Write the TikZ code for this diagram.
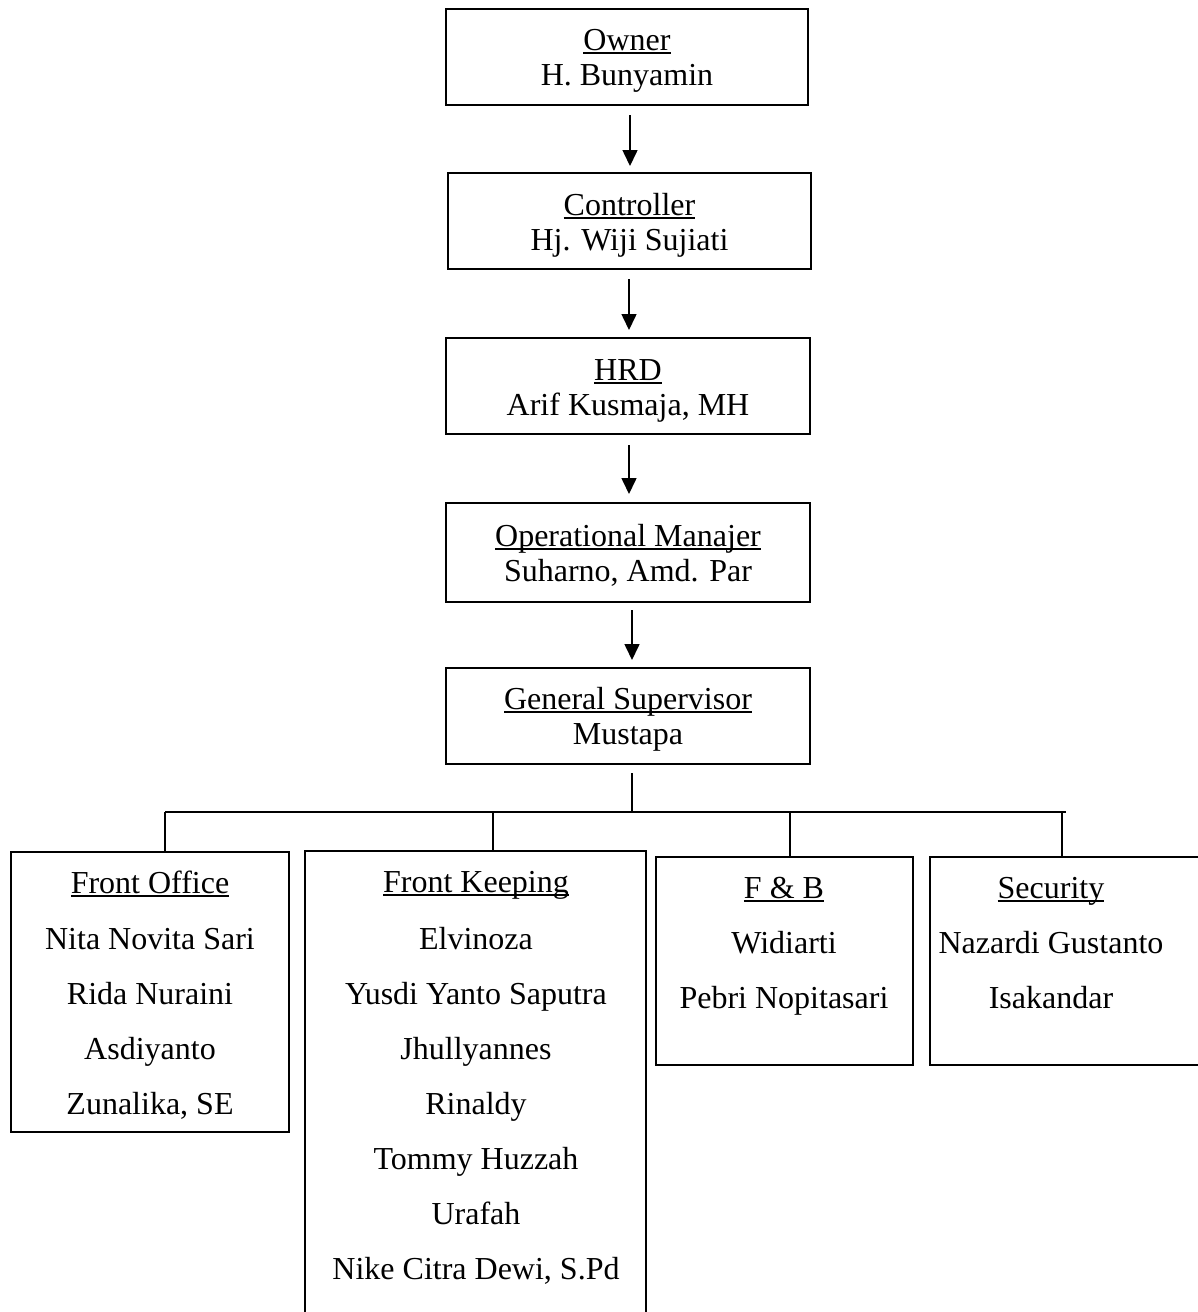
\documentclass[tikz,border=0pt]{standalone}
\usepackage{fontspec}
\setmainfont{Liberation Serif}
\usetikzlibrary{arrows.meta}
\newsavebox\ulbox
\newcommand\ulx[1]{\sbox\ulbox{#1}\rlap{\rule[-3.5pt]{\wd\ulbox}{1.6pt}}\usebox\ulbox}
\tikzset{
  orgbox/.style={draw, line width=1.6pt, rectangle, anchor=north west, inner sep=0pt, outer sep=0pt},
  txt/.style={anchor=base, inner sep=0pt, font=\fontsize{32pt}{35pt}\selectfont},
  conn/.style={line width=1.6pt},
  arr/.style={line width=1.6pt, -{Triangle[length=16pt,width=15pt]}}
}
\begin{document}
\begin{tikzpicture}[x=1pt,y=-1pt]
\useasboundingbox (0,0) rectangle (1198,1312);
% top chain boxes
\node[orgbox, minimum width=362pt, minimum height=96pt] (owner) at (446,9) {};
\node[orgbox, minimum width=363pt, minimum height=96pt] (ctrl) at (448,173) {};
\node[orgbox, minimum width=364pt, minimum height=96pt] (hrd) at (446,338) {};
\node[orgbox, minimum width=364pt, minimum height=99pt] (ops) at (446,503) {};
\node[orgbox, minimum width=364pt, minimum height=96pt] (gen) at (446,668) {};
% texts in top chain
\node[txt] (t1a) at (627,50) {\ulx{Owner}};
\node[txt] (t1b) at (627,85) {H. Bunyamin};
\node[txt] (t2a) at (629.5,215) {\ulx{Controller}};
\node[txt] (t2b) at (629.5,250) {Hj. Wiji Sujiati};
\node[txt] (t3a) at (628,380) {\ulx{HRD}};
\node[txt] (t3b) at (628,415) {Arif Kusmaja, MH};
\node[txt] (t4a) at (628,546) {\ulx{Operational Manajer}};
\node[txt] (t4b) at (628,581) {Suharno, Amd. Par};
\node[txt] (t5a) at (628,709) {\ulx{General Supervisor}};
\node[txt] (t5b) at (628,744) {Mustapa};
% arrows
\draw[arr, shorten <=10pt, shorten >=7pt] ([xshift=3pt]owner.south) -- ([xshift=3pt]owner.south |- ctrl.north);
\draw[arr, shorten <=10pt, shorten >=8pt] ([xshift=-0.5pt]ctrl.south) -- ([xshift=-0.5pt]ctrl.south |- hrd.north);
\draw[arr, shorten <=11pt, shorten >=9pt] ([xshift=1pt]hrd.south) -- ([xshift=1pt]hrd.south |- ops.north);
\draw[arr, shorten <=8pt, shorten >=8pt] ([xshift=4pt]ops.south) -- ([xshift=4pt]ops.south |- gen.north);
% department boxes
\node[orgbox, minimum width=278pt, minimum height=280pt] (fo) at (11,852) {};
\node[orgbox, minimum width=341pt, minimum height=480pt] (fk) at (305,851) {};
\node[orgbox, minimum width=257pt, minimum height=208pt] (fb) at (656,857) {};
\node[orgbox, minimum width=280pt, minimum height=208pt] (sec) at (930,857) {};
% bus
\coordinate (g1) at ([xshift=4pt,yshift=-9pt]gen.south);
\coordinate (busL) at (165,812);
\coordinate (busR) at (1066,812);
\draw[conn] (g1) -- (g1 |- busL);
\draw[conn] (busL) -- (busR);
\draw[conn] (busL) -- (busL |- fo.north);
\draw[conn] (493,812) coordinate (b2) -- (b2 |- fk.north);
\draw[conn] (790,812) coordinate (b3) -- (b3 |- fb.north);
\draw[conn] (1062,812) coordinate (b4) -- (b4 |- sec.north);
% Front Office
\node[txt] (fo0) at (150,893) {\ulx{Front Office}};
\node[txt] (fo1) at (150,949) {Nita Novita Sari};
\node[txt] (fo2) at (150,1004) {Rida Nuraini};
\node[txt] (fo3) at (150,1059) {Asdiyanto};
\node[txt] (fo4) at (150,1114) {Zunalika, SE};
% Front Keeping
\node[txt] (fk0) at (476,892) {\ulx{Front Keeping}};
\node[txt] (fk1) at (476,949) {Elvinoza};
\node[txt] (fk2) at (476,1004) {Yusdi Yanto Saputra};
\node[txt] (fk3) at (476,1059) {Jhullyannes};
\node[txt] (fk4) at (476,1114) {Rinaldy};
\node[txt] (fk5) at (476,1169) {Tommy Huzzah};
\node[txt] (fk6) at (476,1224) {Urafah};
\node[txt] (fk7) at (476,1279) {Nike Citra Dewi, S.Pd};
% F & B
\node[txt] (fb0) at (784,898) {\ulx{F \& B}};
\node[txt] (fb1) at (784,953) {Widiarti};
\node[txt] (fb2) at (784,1008) {Pebri Nopitasari};
% Security
\node[txt] (sc0) at (1051,898) {\ulx{Security}};
\node[txt] (sc1) at (1051,953) {Nazardi Gustanto};
\node[txt] (sc2) at (1051,1008) {Isakandar};
\end{tikzpicture}
\end{document}
